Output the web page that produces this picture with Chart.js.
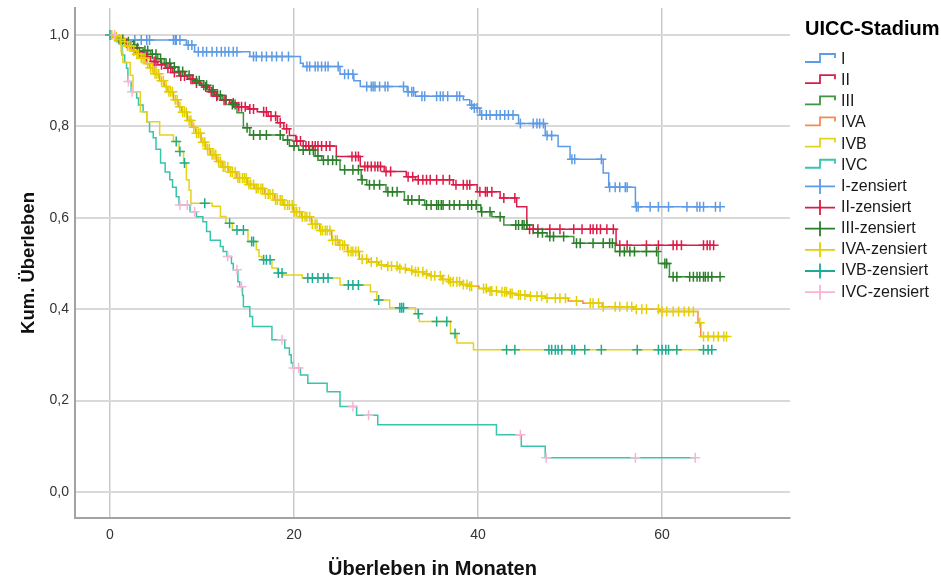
<!DOCTYPE html>
<html>
<head>
<meta charset="utf-8">
<title>Kaplan-Meier: Überleben nach UICC-Stadium</title>
<script src="https://cdn.jsdelivr.net/npm/chart.js@4.4.1/dist/chart.umd.min.js"></script>
<style>
  html, body { margin: 0; padding: 0; background: #ffffff; }
  canvas { display: block; }
</style>
</head>
<body>
<canvas id="km" width="941" height="581"></canvas>
<script>
// ---- groups and styling ----
const groups = ['I', 'II', 'III', 'IVA', 'IVB', 'IVC'];
const lineColors   = ['#5d9be6', '#d81f4c', '#3f9442', '#f48a52', '#e6d31c', '#39c4ab'];
const censorColors = ['#5d9be6', '#dc1c48', '#2c7f2a', '#e3d000', '#1eab95', '#f7b5d6'];
const legendTitle = 'UICC-Stadium';
const xTicks = [0, 20, 40, 60];
const yTicks = [0, 0.2, 0.4, 0.6, 0.8, 1.0];

// ---- Stadium I: event times (months), survival after each event, censored times ----
const stageI_t = [0.5, 8.3, 9.2, 15.2, 20.7, 21.0, 25.0, 26.5, 27.2, 32.3, 33.2, 38.4, 39.1, 39.5, 40.2, 44.4, 47.3, 48.7, 50.0, 53.6, 54.2, 57.1];
const stageI_s = [0.989, 0.978, 0.963, 0.953, 0.938, 0.931, 0.914, 0.900, 0.887, 0.876, 0.866, 0.858, 0.847, 0.840, 0.825, 0.806, 0.780, 0.756, 0.728, 0.698, 0.667, 0.624];
const stageI_c = [2.7, 3.4, 4.0, 4.3, 6.9, 7.1, 7.2, 7.6, 8.5, 8.9, 9.6, 10.1, 10.5, 11.1, 11.6, 12.1, 12.5, 12.9, 13.4, 13.8, 15.6, 15.9, 16.5, 17.0, 17.6, 18.1, 18.7, 19.4, 21.4, 21.7, 22.3, 22.6, 23.0, 23.4, 23.7, 24.8, 25.5, 25.9, 26.4, 27.9, 28.4, 28.6, 28.8, 29.3, 29.9, 30.2, 31.9, 32.4, 32.8, 33.0, 33.9, 34.2, 35.5, 35.9, 36.2, 36.7, 37.7, 38.0, 39.3, 39.6, 39.9, 40.4, 40.9, 41.3, 42.0, 42.4, 42.9, 43.3, 43.8, 44.6, 46.0, 46.4, 46.7, 47.1, 47.5, 48.0, 50.2, 50.5, 53.4, 54.3, 54.9, 55.4, 56.0, 56.2, 57.2, 57.4, 58.7, 59.6, 60.7, 62.7, 63.8, 64.1, 64.5, 65.8, 66.3];

// ---- Stadium II ----
const stageII_t = [0.3, 1.0, 1.5, 2.2, 2.9, 3.6, 4.4, 5.2, 6.0, 6.8, 7.6, 8.4, 9.2, 10.0, 10.8, 11.4, 12.0, 13.0, 13.8, 15.0, 16.0, 17.2, 18.2, 18.9, 19.5, 20.2, 21.0, 24.6, 27.2, 29.8, 32.2, 33.2, 37.3, 39.9, 42.4, 44.2, 45.3, 55.0];
const stageII_s = [0.995, 0.990, 0.982, 0.972, 0.963, 0.953, 0.942, 0.935, 0.927, 0.918, 0.910, 0.903, 0.895, 0.886, 0.876, 0.866, 0.857, 0.851, 0.843, 0.838, 0.832, 0.822, 0.808, 0.795, 0.780, 0.768, 0.757, 0.734, 0.712, 0.701, 0.690, 0.683, 0.672, 0.657, 0.643, 0.624, 0.575, 0.540];
const stageII_c = [1.8, 2.6, 3.2, 4.0, 4.8, 5.0, 5.6, 6.3, 6.6, 7.0, 7.7, 8.1, 8.8, 9.0, 9.4, 10.4, 11.0, 11.2, 11.6, 12.4, 12.6, 13.4, 14.0, 14.3, 14.7, 15.2, 15.6, 16.7, 17.0, 17.5, 18.0, 18.5, 19.2, 20.3, 20.7, 21.3, 21.6, 22.0, 22.3, 22.6, 23.0, 23.5, 23.9, 26.3, 26.7, 27.0, 27.7, 28.0, 28.4, 28.8, 29.1, 29.4, 30.0, 30.5, 32.4, 32.9, 33.5, 34.0, 34.4, 34.8, 35.5, 36.2, 36.9, 37.6, 38.4, 38.8, 39.1, 40.2, 40.8, 41.0, 41.5, 42.8, 44.0, 45.6, 46.0, 46.5, 47.8, 48.9, 50.4, 51.3, 52.2, 52.5, 52.9, 53.3, 54.0, 54.7, 55.4, 56.2, 58.3, 59.6, 61.2, 61.6, 62.1, 64.5, 64.9, 65.2, 65.6];

// ---- Stadium III ----
const stageIII_t = [0.4, 1.0, 1.6, 2.3, 2.9, 3.6, 4.4, 5.2, 5.9, 6.6, 7.4, 8.2, 9.0, 9.8, 10.6, 11.4, 12.2, 13.2, 13.8, 14.5, 15.2, 18.8, 19.5, 20.5, 22.3, 23.0, 25.0, 27.3, 27.9, 30.0, 32.0, 34.2, 40.3, 41.5, 42.8, 46.0, 47.5, 50.4, 54.9, 59.6, 60.8];
const stageIII_s = [0.995, 0.990, 0.985, 0.978, 0.972, 0.966, 0.958, 0.948, 0.938, 0.930, 0.920, 0.912, 0.900, 0.890, 0.880, 0.868, 0.858, 0.848, 0.830, 0.797, 0.781, 0.770, 0.757, 0.748, 0.735, 0.726, 0.705, 0.683, 0.672, 0.657, 0.639, 0.628, 0.613, 0.602, 0.584, 0.567, 0.559, 0.544, 0.526, 0.500, 0.471];
const stageIII_c = [1.0, 1.4, 2.0, 2.6, 3.0, 3.8, 4.1, 4.6, 5.0, 5.5, 6.1, 6.5, 7.0, 7.5, 7.9, 8.6, 9.4, 9.7, 10.2, 10.5, 11.2, 11.7, 12.0, 12.6, 13.3, 13.6, 14.9, 15.6, 16.3, 17.0, 18.5, 19.3, 20.0, 21.0, 21.7, 22.1, 22.6, 23.2, 23.7, 24.2, 24.6, 25.5, 26.4, 27.0, 27.4, 28.2, 28.7, 29.3, 30.2, 30.7, 31.2, 32.4, 32.8, 33.6, 34.4, 34.9, 35.5, 35.7, 36.0, 36.2, 36.9, 37.4, 38.0, 38.9, 39.3, 39.8, 40.4, 41.3, 42.4, 44.1, 44.4, 44.8, 45.0, 45.3, 46.5, 47.0, 47.8, 48.2, 49.3, 50.7, 51.1, 52.5, 53.6, 54.3, 54.6, 55.4, 55.9, 56.5, 57.0, 58.3, 59.4, 60.3, 60.5, 61.2, 61.6, 63.0, 63.4, 63.8, 64.1, 64.5, 64.7, 65.0, 65.4, 66.3];

// ---- Stadium IVA ----
const stageIVA_t = [0.4, 0.9, 1.3, 1.8, 2.4, 2.8, 3.3, 3.9, 4.3, 4.8, 5.4, 5.9, 6.3, 6.9, 7.4, 7.8, 8.4, 8.9, 9.3, 9.9, 10.4, 10.9, 11.6, 12.2, 12.9, 13.8, 14.9, 15.7, 16.8, 17.9, 18.8, 19.9, 20.8, 21.9, 22.8, 24.1, 24.9, 25.8, 27.1, 28.1, 29.2, 30.1, 31.3, 32.2, 32.9, 34.1, 34.8, 36.1, 36.9, 38.2, 39.0, 40.1, 41.2, 42.1, 43.3, 44.2, 45.6, 47.3, 49.8, 51.4, 53.5, 56.9, 59.8, 63.9, 64.2];
const stageIVA_s = [0.996, 0.990, 0.985, 0.976, 0.965, 0.958, 0.949, 0.937, 0.928, 0.915, 0.900, 0.887, 0.876, 0.858, 0.843, 0.831, 0.813, 0.798, 0.785, 0.765, 0.751, 0.738, 0.723, 0.711, 0.700, 0.687, 0.673, 0.664, 0.652, 0.639, 0.628, 0.613, 0.602, 0.586, 0.572, 0.551, 0.540, 0.526, 0.509, 0.503, 0.497, 0.494, 0.489, 0.485, 0.482, 0.477, 0.473, 0.465, 0.460, 0.454, 0.450, 0.445, 0.440, 0.438, 0.434, 0.431, 0.428, 0.424, 0.418, 0.413, 0.405, 0.400, 0.395, 0.370, 0.340];
const stageIVA_c = [0.2, 0.5, 0.7, 1.1, 1.2, 1.6, 1.9, 2.1, 2.3, 2.6, 2.9, 3.1, 3.4, 3.6, 3.8, 4.1, 4.4, 4.6, 4.9, 5.1, 5.3, 5.6, 5.8, 6.1, 6.4, 6.6, 6.8, 7.1, 7.3, 7.6, 7.9, 8.1, 8.3, 8.6, 8.8, 9.1, 9.4, 9.6, 9.8, 10.1, 10.3, 10.6, 10.8, 11.1, 11.3, 11.5, 11.8, 12.0, 12.3, 12.5, 12.8, 13.1, 13.3, 13.6, 13.9, 14.1, 14.4, 14.6, 14.8, 15.1, 15.3, 15.6, 15.9, 16.1, 16.4, 16.6, 16.9, 17.2, 17.4, 17.7, 18.0, 18.2, 18.5, 18.7, 19.0, 19.3, 19.5, 19.8, 20.1, 20.3, 20.6, 20.9, 21.2, 21.4, 21.7, 22.0, 22.3, 22.5, 22.9, 23.1, 23.4, 23.6, 23.9, 24.2, 24.5, 24.7, 25.0, 25.3, 25.5, 25.9, 26.2, 26.4, 26.7, 27.0, 27.4, 27.9, 28.4, 29.0, 29.5, 30.2, 30.6, 31.2, 31.5, 32.1, 32.8, 33.2, 33.5, 34.0, 34.4, 34.9, 35.3, 35.9, 36.2, 36.8, 37.0, 37.3, 37.7, 38.0, 38.4, 38.8, 39.1, 39.3, 40.6, 40.9, 41.3, 41.5, 42.0, 42.6, 42.9, 43.1, 43.5, 43.7, 44.4, 44.6, 45.1, 45.7, 46.4, 46.9, 47.5, 48.4, 48.9, 49.5, 50.7, 52.2, 52.5, 53.1, 53.6, 54.9, 55.4, 56.2, 56.7, 57.2, 57.8, 58.3, 59.6, 60.0, 60.5, 61.2, 61.8, 62.4, 62.9, 63.4, 64.1, 64.5, 65.0, 65.6, 66.1, 66.7, 67.0];

// ---- Stadium IVB ----
const stageIVB_t = [0.9, 1.2, 1.4, 2.2, 2.5, 3.3, 4.0, 5.4, 6.9, 7.5, 8.0, 8.3, 8.6, 8.8, 11.1, 12.0, 12.6, 13.3, 15.0, 15.9, 16.2, 16.5, 17.6, 18.2, 18.8, 20.9, 25.0, 28.3, 29.0, 30.4, 33.2, 33.6, 37.0, 37.7, 39.5];
const stageIVB_s = [0.985, 0.963, 0.940, 0.912, 0.876, 0.832, 0.810, 0.781, 0.767, 0.745, 0.720, 0.683, 0.660, 0.632, 0.625, 0.603, 0.588, 0.573, 0.548, 0.530, 0.515, 0.508, 0.490, 0.479, 0.475, 0.468, 0.453, 0.438, 0.420, 0.403, 0.390, 0.373, 0.347, 0.326, 0.311];
const stageIVB_c = [0.0, 7.2, 7.6, 8.1, 10.3, 13.0, 13.8, 14.5, 15.4, 15.6, 16.7, 17.0, 17.4, 18.3, 18.7, 21.5, 22.0, 22.6, 23.2, 23.7, 25.9, 26.4, 27.0, 29.2, 31.5, 31.7, 31.9, 33.5, 35.5, 36.6, 37.5, 43.1, 44.0, 47.7, 48.0, 48.4, 48.7, 49.1, 50.2, 50.5, 51.6, 53.4, 57.3, 59.6, 60.0, 60.4, 60.7, 61.6, 64.5, 65.0, 65.4];

// ---- Stadium IVC ----
const stageIVC_t = [0.7, 1.3, 1.6, 1.8, 1.95, 2.3, 2.9, 3.1, 3.6, 4.0, 4.3, 4.7, 5.0, 5.5, 6.0, 6.5, 6.8, 7.2, 7.5, 8.7, 9.4, 10.1, 10.5, 10.9, 12.0, 12.3, 12.7, 13.2, 13.4, 13.9, 14.1, 14.4, 14.5, 15.2, 15.5, 17.6, 19.0, 19.5, 19.7, 19.9, 20.7, 21.5, 23.6, 25.0, 26.8, 29.1, 42.0, 44.7, 47.3];
const stageIVC_s = [0.985, 0.956, 0.940, 0.927, 0.898, 0.876, 0.862, 0.847, 0.832, 0.810, 0.788, 0.775, 0.750, 0.720, 0.700, 0.683, 0.667, 0.646, 0.628, 0.613, 0.602, 0.591, 0.570, 0.551, 0.537, 0.526, 0.515, 0.500, 0.486, 0.460, 0.449, 0.430, 0.405, 0.384, 0.362, 0.333, 0.315, 0.300, 0.282, 0.271, 0.256, 0.238, 0.219, 0.187, 0.168, 0.147, 0.125, 0.100, 0.075];
const stageIVC_c = [0.5, 2.0, 2.4, 7.6, 8.4, 9.2, 12.8, 13.8, 14.3, 18.7, 19.95, 20.5, 26.4, 28.1, 44.6, 47.4, 57.1, 63.6];

const eventTimes = [stageI_t, stageII_t, stageIII_t, stageIVA_t, stageIVB_t, stageIVC_t];
const survival   = [stageI_s, stageII_s, stageIII_s, stageIVA_s, stageIVB_s, stageIVC_s];
const censored   = [stageI_c, stageII_c, stageIII_c, stageIVA_c, stageIVB_c, stageIVC_c];

// survival estimate in effect at a given time
function survivalAt(times, surv, t) {
  let v = 1;
  for (let i = 0; i < times.length; i++) {
    if (times[i] <= t) v = surv[i]; else break;
  }
  return v;
}

// step curve: start at (0, 1), one point per event, held flat to the last follow-up
function curvePoints(times, surv, cens) {
  const pts = [{ x: 0, y: 1 }];
  times.forEach((t, i) => pts.push({ x: t, y: surv[i] }));
  const end = Math.max(times[times.length - 1], ...cens);
  pts.push({ x: end, y: surv[surv.length - 1] });
  return pts;
}

const curveSets = groups.map((g, i) => ({
  type: 'line',
  label: g,
  data: curvePoints(eventTimes[i], survival[i], censored[i]),
  stepped: 'before',
  borderColor: lineColors[i],
  borderWidth: 1.5,
  pointRadius: 0,
  fill: false,
  order: 20 + i
}));

const censorSets = groups.map((g, i) => ({
  type: 'scatter',
  label: g + '-zensiert',
  data: censored[i].map(t => ({ x: t, y: survivalAt(eventTimes[i], survival[i], t) })),
  showLine: false,
  pointStyle: 'cross',
  pointRadius: 5,
  pointBorderWidth: 1.5,
  borderColor: censorColors[i],
  backgroundColor: censorColors[i],
  order: 10 - i
}));

// legend on the right: step icons for curves, crosses for censored cases
const stageLegend = {
  id: 'stageLegend',
  afterDraw(chart) {
    const ctx = chart.ctx;
    const x0 = 805, x1 = 835, textX = 841;
    const rowTop = 59.5, rowGap = 21.15;
    ctx.save();
    ctx.fillStyle = '#000000';
    ctx.textBaseline = 'middle';
    ctx.textAlign = 'left';
    ctx.font = 'bold 20px "Liberation Sans", Arial, sans-serif';
    ctx.fillText(legendTitle, 805, 29);
    ctx.font = '16px "Liberation Sans", Arial, sans-serif';
    const items = curveSets.concat(censorSets);
    items.forEach((ds, k) => {
      const y = rowTop + k * rowGap;
      const isCurve = ds.type === 'line';
      ctx.lineWidth = 1.8;
      ctx.strokeStyle = ds.borderColor;
      ctx.beginPath();
      if (isCurve) {
        ctx.moveTo(x0, y + 2.5);
        ctx.lineTo(x0 + 15, y + 2.5);
        ctx.lineTo(x0 + 15, y - 5.5);
        ctx.lineTo(x1, y - 5.5);
        ctx.lineTo(x1, y - 1.5);
      } else {
        ctx.moveTo(x0, y);
        ctx.lineTo(x1, y);
        ctx.moveTo(x0 + 15, y - 7.5);
        ctx.lineTo(x0 + 15, y + 7.5);
      }
      ctx.stroke();
      ctx.fillStyle = '#1a1a1a';
      ctx.fillText(ds.label, textX, y);
    });
    ctx.restore();
  }
};

Chart.defaults.font.family = '"Liberation Sans", Arial, sans-serif';

new Chart(document.getElementById('km'), {
  type: 'line',
  data: { datasets: curveSets.concat(censorSets) },
  options: {
    responsive: false,
    animation: false,
    devicePixelRatio: 1,
    layout: { padding: { top: 8, right: 151, bottom: 0, left: 0 } },
    plugins: {
      legend: { display: false },
      tooltip: { enabled: false }
    },
    scales: {
      x: {
        type: 'linear',
        min: -3.8,
        max: 73.9,
        afterBuildTicks: s => { s.ticks = xTicks.map(v => ({ value: v })); },
        afterFit: s => { s.height = 63; s.paddingLeft = 0; s.paddingRight = 0; },
        ticks: { color: '#333333', font: { size: 14 }, padding: 9, maxRotation: 0, callback: v => String(v) },
        grid: { color: '#c9c9c9', lineWidth: 1.5, drawTicks: false },
        border: { color: '#a3a3a3', width: 2 },
        title: { display: true, text: 'Überleben in Monaten', color: '#111111', font: { size: 20, weight: 'bold' }, padding: { top: 0, bottom: 0 } }
      },
      y: {
        type: 'linear',
        min: -0.057,
        max: 1.059,
        afterBuildTicks: s => { s.ticks = yTicks.map(v => ({ value: v })); },
        afterFit: s => { s.width = 75; s.paddingTop = 0; s.paddingBottom = 0; },
        ticks: { color: '#333333', font: { size: 14 }, padding: 6, callback: v => v.toFixed(1).replace('.', ',') },
        grid: { color: '#d9d9d9', lineWidth: 2, drawTicks: false },
        border: { color: '#a3a3a3', width: 2 },
        title: { display: true, text: 'Kum. Überleben', color: '#111111', font: { size: 18.5, weight: 'bold' }, padding: { top: 18, bottom: 0 } }
      }
    }
  },
  plugins: [stageLegend]
});
</script>
</body>
</html>
